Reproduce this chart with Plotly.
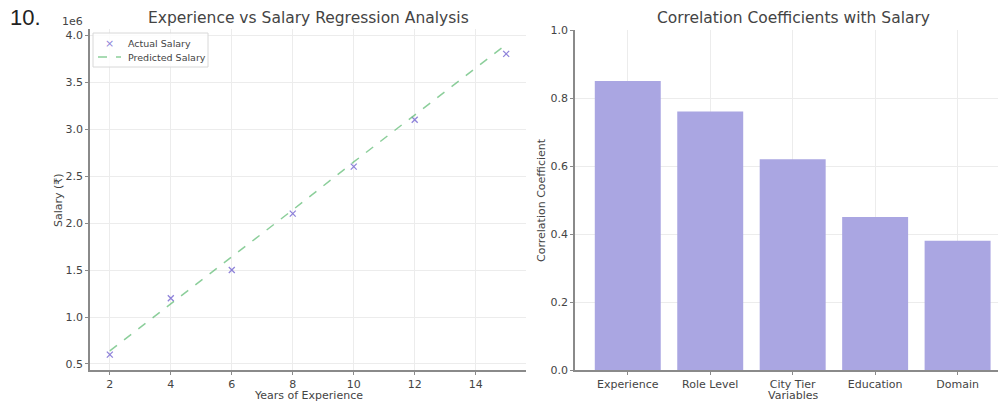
import plotly.graph_objects as go

# Data
years = [2, 4, 6, 8, 10, 12, 15]
actual_salary = [600000, 1200000, 1500000, 2100000, 2600000, 3100000, 3800000]
predicted_salary = [640000, 1140000, 1640000, 2140000, 2650000, 3150000, 3900000]
salary_ticks = [500000, 1000000, 1500000, 2000000, 2500000, 3000000, 3500000, 4000000]
salary_tick_labels = ["0.5", "1.0", "1.5", "2.0", "2.5", "3.0", "3.5", "4.0"]
year_ticks = [2, 4, 6, 8, 10, 12, 14]

variables = ["Experience", "Role Level", "City Tier", "Education", "Domain"]
correlations = [0.85, 0.76, 0.62, 0.45, 0.38]
corr_ticks = [0.0, 0.2, 0.4, 0.6, 0.8, 1.0]
corr_tick_labels = ["0.0", "0.2", "0.4", "0.6", "0.8", "1.0"]

W, H = 1003, 403
FONT = "DejaVu Sans"
TICK_C = "#444444"
GRID_C = "#ececec"
SPINE_C = "#8a8a8a"
MARK_C = "rgba(106,90,205,0.75)"
LINE_C = "rgba(100,190,120,0.75)"


def px(x):
    return x / W


def py(y):
    return 1 - y / H


fig = go.Figure()

fig.add_trace(go.Scatter(
    x=years, y=actual_salary, mode="markers", name="Actual Salary", showlegend=False,
    marker=dict(symbol="x-thin", size=6, color=MARK_C, line=dict(width=1.3, color=MARK_C)),
    xaxis="x", yaxis="y"))
fig.add_trace(go.Scatter(
    x=years, y=predicted_salary, mode="lines", name="Predicted Salary", showlegend=False,
    line=dict(color=LINE_C, width=1.5, dash="dash"),
    xaxis="x", yaxis="y"))

fig.add_trace(go.Bar(
    x=variables, y=correlations, marker=dict(color="#aaa6e2", line=dict(width=0)),
    width=0.8, showlegend=False, xaxis="x2", yaxis="y2"))

axis_common = dict(showline=True, linecolor=SPINE_C, linewidth=1.5, ticks="outside",
                   ticklen=3, tickcolor=SPINE_C, showgrid=True, gridcolor=GRID_C,
                   gridwidth=1, zeroline=False, automargin=False,
                   tickfont=dict(family=FONT, size=11, color=TICK_C))


def txt(text, x, y, size=11.5, color=TICK_C, xanchor="center", angle=0, family=FONT):
    return dict(text=text, x=px(x), y=py(y), xref="paper", yref="paper",
                xanchor=xanchor, yanchor="middle", showarrow=False, textangle=angle,
                font=dict(family=family, size=size, color=color))


fig.update_layout(
    width=W, height=H,
    margin=dict(l=0, r=0, t=0, b=0, autoexpand=False),
    paper_bgcolor="white", plot_bgcolor="white",
    font=dict(family=FONT, color=TICK_C),
    showlegend=False,
    xaxis=dict(domain=[px(90), px(526)], range=[1.35, 15.65], tickvals=year_ticks,
               anchor="y", **axis_common),
    yaxis=dict(domain=[py(370), py(29)], range=[436000, 4065000], tickvals=salary_ticks,
               ticktext=salary_tick_labels, anchor="x", **axis_common),
    xaxis2=dict(domain=[px(575), px(998)], range=[-0.64, 4.49], anchor="y2", **axis_common),
    yaxis2=dict(domain=[py(370), py(30)], range=[0, 1], tickvals=corr_ticks,
                ticktext=corr_tick_labels, anchor="x2", **axis_common),
    shapes=[
        # legend box
        dict(type="rect", xref="paper", yref="paper", x0=px(93), x1=px(208), y0=py(67), y1=py(33),
             line=dict(color="#d8d8d8", width=1), fillcolor="rgba(255,255,255,0.85)"),
        dict(type="line", xref="paper", yref="paper", x0=px(98), x1=px(121), y0=py(57), y1=py(57),
             line=dict(color=LINE_C, width=1.5, dash="dash")),
    ],
    annotations=[
        txt("10.", 8, 18, size=22, color="#222222", xanchor="left", family="Liberation Sans"),
        txt("Experience vs Salary Regression Analysis", 308, 18, size=15.5),
        txt("Correlation Coefficients with Salary", 793, 18, size=15.5),
        txt("1e6", 72, 21, size=11),
        txt("Years of Experience", 308, 395, size=11),
        txt("Variables", 793, 395, size=11),
        txt("Salary (₹)", 58, 200, size=11, angle=-90),
        txt("Correlation Coefficient", 541, 200, size=11, angle=-90),
        # legend entries
        txt("×", 109, 43, size=11, color=MARK_C),
        txt("Actual Salary", 126, 43, size=9.5, xanchor="left"),
        txt("Predicted Salary", 126, 57, size=9.5, xanchor="left"),
    ],
)

fig.write_html("out.html", config={"displayModeBar": False},
               post_script="document.body.style.margin='0';document.body.style.padding='0';")
